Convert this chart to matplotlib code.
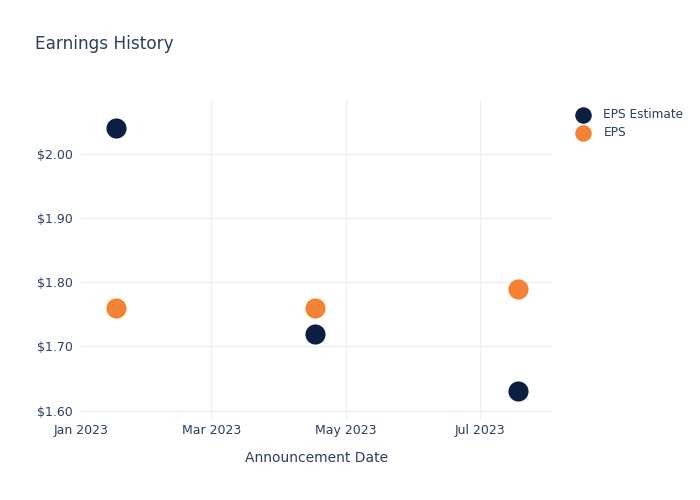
import matplotlib
matplotlib.use("Agg")
import matplotlib.pyplot as plt
import matplotlib.dates as mdates
import numpy as np
from datetime import datetime

dates = ["2023-01-17", "2023-04-17", "2023-07-18"]
eps_estimate = [2.04, 1.72, 1.63]
eps_actual = [1.76, 1.76, 1.79]
yticks = [1.60, 1.70, 1.80, 1.90, 2.00]

x = [datetime.strptime(d, "%Y-%m-%d") for d in dates]
TXT = "#2a3f5f"
GRID = "#ebf0f8"

fig = plt.figure(figsize=(7, 5), dpi=100)
ax = fig.add_axes([81/700, 1-420/500, (553-81)/700, 320/500])

ax.scatter(x, eps_estimate, s=210, color="#0c1f43", zorder=3, linewidths=0, label="EPS Estimate")
ax.scatter(x, eps_actual, s=210, color="#f58134", zorder=3, linewidths=0, label="EPS")

ax.set_xlim(datetime(2023, 1, 1), datetime(2023, 8, 3))
ax.set_ylim(1.5855, 2.084)
ax.set_yticks(yticks)
ax.set_yticklabels([f"${v:.2f}" for v in yticks])
ax.xaxis.set_major_locator(mdates.MonthLocator(bymonth=[1, 3, 5, 7]))
ax.xaxis.set_major_formatter(mdates.DateFormatter("%b %Y"))

ax.grid(True, color=GRID, linewidth=1)
ax.set_axisbelow(True)
for s in ax.spines.values():
    s.set_visible(False)
ax.tick_params(axis="both", length=0, labelsize=9, colors=TXT)
ax.tick_params(axis="x", pad=3)
ax.tick_params(axis="y", pad=6)
fig.canvas.draw()
ax.get_xgridlines()[0].set_visible(False)

ax.set_xlabel("Announcement Date", fontsize=10, color=TXT, labelpad=10)
fig.text(35/700, 1-44/500, "Earnings History", fontsize=12.2, color=TXT, va="center", ha="left")

leg = fig.legend(loc="upper left", bbox_to_anchor=(566/700, 1-103/500), frameon=False,
                 fontsize=8.7, labelcolor=TXT, handletextpad=0.7, borderaxespad=0,
                 labelspacing=0.45, markerscale=0.82)

fig.savefig("out.png", dpi=100)
